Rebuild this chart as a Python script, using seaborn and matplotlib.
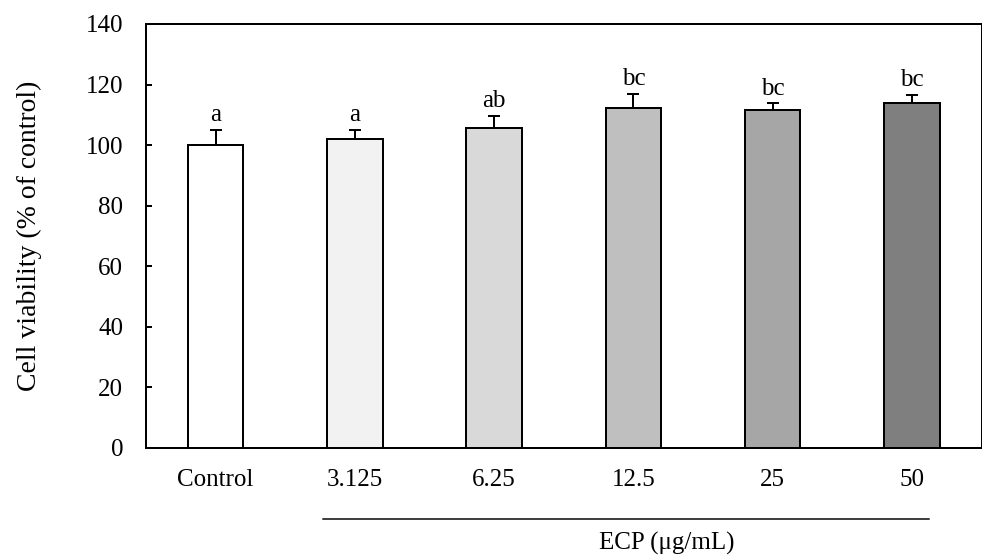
import numpy as np
import pandas as pd
import matplotlib
matplotlib.use("Agg")
import matplotlib.pyplot as plt
from matplotlib.lines import Line2D
import seaborn as sns

categories = ["Control", "3.125", "6.25", "12.5", "25", "50"]
viability = [100.0, 101.9, 105.6, 112.2, 111.6, 113.8]
errors = [5.0, 3.1, 4.0, 4.7, 2.2, 2.8]
letters = ["a", "a", "ab", "bc", "bc", "bc"]
bar_colors = ["#ffffff", "#f2f2f2", "#d9d9d9", "#bfbfbf", "#a6a6a6", "#7f7f7f"]
y_ticks = [0, 20, 40, 60, 80, 100, 120, 140]

sns.set_style("white")
plt.rcParams["font.family"] = ["Liberation Serif", "DejaVu Serif"]

df = pd.DataFrame({"dose": categories, "viability": viability})

fig = plt.figure(figsize=(9.82, 5.57), dpi=100)
ax = fig.add_axes([146 / 982, 1 - 447.7 / 557, (981.5 - 146) / 982, (447.7 - 24) / 557])

sns.barplot(data=df, x="dose", y="viability", hue="dose", order=categories,
            hue_order=categories, palette=bar_colors, errorbar=None, legend=False,
            width=0.40, edgecolor="black", linewidth=1.44, ax=ax, saturation=1)

xpos = np.arange(len(categories))
ax.errorbar(xpos, viability, yerr=[np.zeros(len(errors)), errors], fmt="none",
            ecolor="black", elinewidth=1.44, capsize=4.3, capthick=1.44, zorder=5)

for x, v, e, lab in zip(xpos, viability, errors, letters):
    ax.text(x, v + e + 1.2, lab, ha="center", va="bottom", fontsize=18, color="black")

ax.set_xlim(-0.5, len(categories) - 0.5)
ax.set_ylim(0, 140)
ax.set_yticks(y_ticks)
ax.set_yticklabels([str(t) for t in y_ticks])
ax.tick_params(axis="y", direction="in", length=4.3, width=1.44, pad=16.5,
               labelsize=18, colors="black", left=True)
ax.tick_params(axis="x", length=0, pad=15, labelsize=18, colors="black")
ax.set_xlabel("")
ax.set_ylabel("Cell viability (% of control)", fontsize=20, color="black")
ax.yaxis.set_label_coords(-0.139, 0.5)
ax.yaxis.label.set_va("center")

for s in ax.spines.values():
    s.set_visible(True)
    s.set_color("black")
    s.set_linewidth(1.44)

fig.add_artist(Line2D([323 / 982, 929 / 982], [1 - 519 / 557, 1 - 519 / 557],
                      transform=fig.transFigure, color="#404040", linewidth=1.44))
fig.text(667 / 982, 1 - 543 / 557, "ECP (\u03bcg/mL)", ha="center", va="center",
         fontsize=18, color="black")

fig.savefig("out.png", dpi=100)
